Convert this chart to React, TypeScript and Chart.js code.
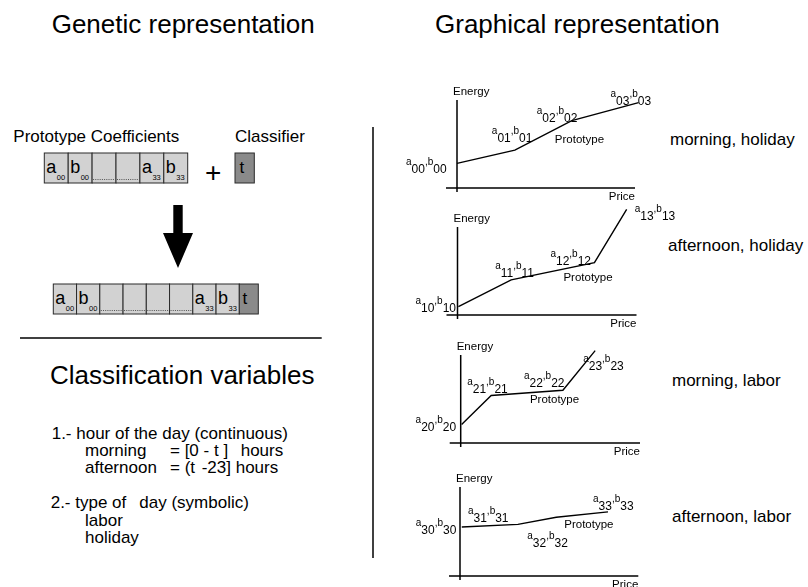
import React, { useEffect, useRef } from "react";
import { Chart, registerables } from "chart.js";

Chart.register(...registerables);

const FONT = '"Liberation Sans", Arial, Helvetica, sans-serif';

// ---- data (arbitrary Price / Energy units of each prototype) ----
const PRICE_MAX = 10;
const ENERGY_MAX = 10;
const profileNames = ["morning, holiday", "afternoon, holiday", "morning, labor", "afternoon, labor"];
const price0 = [0, 3.25, 6.45, 10.2];
const energy0 = [2.8, 4.3, 7.65, 9.7];
const price1 = [0.05, 3.0, 7.65, 9.45];
const energy1 = [0.95, 4.0, 5.95, 12.0];
const price2 = [0.05, 1.7, 5.7, 7.5];
const energy2 = [2.1, 5.4, 6.0, 10.5];
const price3 = [0.1, 3.25, 5.4, 8.3];
const energy3 = [5.5, 5.8, 6.6, 7.2];
const prices = [price0, price1, price2, price3];
const energies = [energy0, energy1, energy2, energy3];

// ---- layout ----
const panelBoxes = [
  { l: 457, t: 100, r: 635, b: 188 },
  { l: 457.5, t: 227, r: 636.5, b: 315 },
  { l: 460.7, t: 355, r: 640, b: 443.3 },
  { l: 460, t: 486.7, r: 638.3, b: 575.7 },
];
const CANVAS_LEFT = 380;
const CANVAS_W = 320;
const PAD_V = 30;
const coefOffsets = [
  [[-51, 10], [-23, -8.5], [-35, 1], [-28, 2]],
  [[-43, 5], [-16, -3], [-44, 2], [8, 11]],
  [[-46, 6], [-24, -2], [-39, -3], [-12, 19]],
  [[-46, 7], [-50, -2], [-29, 30], [-15, -2]],
];
const protoOffsets = [[-17, 22.6], [-31, 18], [-33, 13], [8, 11]];
const profileLabelPos = [
  { x: 670, y: 145 },
  { x: 668, y: 250.5 },
  { x: 672, y: 385.5 },
  { x: 672, y: 522 },
];

function drawCoef(ctx: CanvasRenderingContext2D, x: number, y: number, sub: string) {
  const small = `10px ${FONT}`;
  const big = `12px ${FONT}`;
  const raise = 8;
  let cx = x;
  ctx.textAlign = "left";
  ctx.font = small;
  ctx.fillText("a", cx, y - raise);
  cx += ctx.measureText("a").width;
  ctx.font = big;
  ctx.fillText(sub, cx, y);
  cx += ctx.measureText(sub).width;
  ctx.font = small;
  ctx.fillText(",", cx, y - raise);
  cx += ctx.measureText(",").width;
  ctx.fillText("b", cx, y - raise);
  cx += ctx.measureText("b").width;
  ctx.font = big;
  ctx.fillText(sub, cx, y);
}

function makeDecor(idx: number) {
  return {
    id: "panelDecor" + idx,
    beforeDatasetsDraw(chart: any) {
      const { ctx, scales } = chart;
      const xs = scales.x;
      const ys = scales.y;
      const x0 = xs.getPixelForValue(0);
      const y0 = ys.getPixelForValue(0);
      const xEnd = xs.getPixelForValue(PRICE_MAX);
      const yEnd = ys.getPixelForValue(ENERGY_MAX);
      ctx.save();
      ctx.strokeStyle = "#000";
      ctx.lineWidth = 1.5;
      ctx.beginPath();
      ctx.moveTo(x0, yEnd);
      ctx.lineTo(x0, y0 + 4);
      ctx.moveTo(x0 - 11, y0);
      ctx.lineTo(xEnd, y0);
      ctx.stroke();
      ctx.restore();
    },
    afterDatasetsDraw(chart: any) {
      const { ctx, scales } = chart;
      const xs = scales.x;
      const ys = scales.y;
      const x0 = xs.getPixelForValue(0);
      const y0 = ys.getPixelForValue(0);
      const xEnd = xs.getPixelForValue(PRICE_MAX);
      const yEnd = ys.getPixelForValue(ENERGY_MAX);
      ctx.save();
      ctx.fillStyle = "#000";
      ctx.textBaseline = "alphabetic";
      ctx.font = `11.5px ${FONT}`;
      ctx.textAlign = "left";
      ctx.fillText("Energy", x0 - 4, yEnd - 5);
      ctx.textAlign = "right";
      ctx.fillText("Price", xEnd, y0 + 12);
      const pr = prices[idx];
      const en = energies[idx];
      for (let j = 0; j < pr.length; j++) {
        const px = xs.getPixelForValue(pr[j]);
        const py = ys.getPixelForValue(en[j]);
        const [dx, dy] = coefOffsets[idx][j];
        drawCoef(ctx, px + dx, py + dy, `${idx}${j}`);
      }
      const p2x = xs.getPixelForValue(pr[2]);
      const p2y = ys.getPixelForValue(en[2]);
      ctx.font = `11.5px ${FONT}`;
      ctx.textAlign = "left";
      ctx.fillText("Prototype", p2x + protoOffsets[idx][0], p2y + protoOffsets[idx][1]);
      ctx.restore();
    },
  };
}

function Panel({ idx }: { idx: number }) {
  const ref = useRef<HTMLCanvasElement | null>(null);
  const box = panelBoxes[idx];
  const top = box.t - PAD_V;
  const height = box.b - box.t + 2 * PAD_V;
  useEffect(() => {
    if (!ref.current) return;
    const chart = new Chart(ref.current, {
      type: "line",
      data: {
        datasets: [
          {
            data: prices[idx].map((p, i) => ({ x: p, y: energies[idx][i] })),
            borderColor: "#000",
            borderWidth: 1.4,
            pointRadius: 0,
            tension: 0,
            fill: false,
            clip: false as any,
          },
        ],
      },
      options: {
        responsive: false,
        maintainAspectRatio: false,
        animation: false,
        devicePixelRatio: 1,
        layout: {
          padding: {
            left: box.l - CANVAS_LEFT,
            right: CANVAS_LEFT + CANVAS_W - box.r,
            top: PAD_V,
            bottom: PAD_V,
          },
        },
        plugins: { legend: { display: false }, tooltip: { enabled: false } },
        scales: {
          x: { type: "linear", min: 0, max: PRICE_MAX, display: false },
          y: { type: "linear", min: 0, max: ENERGY_MAX, display: false },
        },
      },
      plugins: [makeDecor(idx)],
    });
    return () => chart.destroy();
  }, [idx]);
  return (
    <canvas
      ref={ref}
      width={CANVAS_W}
      height={height}
      style={{ position: "absolute", left: CANVAS_LEFT, top, width: CANVAS_W, height }}
    />
  );
}

const LIGHT = "#d2d2d2";
const DARK = "#8a8a8a";
const EDGE = "#2a2a2a";

function Cell({ x, y, w, h, letter, sub, fill, dotted }: any) {
  return (
    <g>
      <rect x={x} y={y} width={w} height={h} fill={fill} stroke={EDGE} strokeWidth={1} />
      {letter ? (
        <text x={x + 2} y={y + 20} fontSize={18} fill="#000">
          {letter}
        </text>
      ) : null}
      {sub ? (
        <text x={x + 12.5} y={y + 27} fontSize={7.5} fill="#000">
          {sub}
        </text>
      ) : null}
      {dotted ? (
        <line x1={x + 1} y1={y + h - 3.5} x2={x + w - 1} y2={y + h - 3.5} stroke="#333" strokeWidth={0.8} strokeDasharray="1 1.2" />
      ) : null}
    </g>
  );
}

const topCells = [
  { letter: "a", sub: "00" },
  { letter: "b", sub: "00" },
  { dotted: true },
  { dotted: true },
  { letter: "a", sub: "33" },
  { letter: "b", sub: "33" },
];
const bottomCells = [
  { letter: "a", sub: "00" },
  { letter: "b", sub: "00" },
  { dotted: true },
  { dotted: true },
  { dotted: true },
  { dotted: true },
  { letter: "a", sub: "33" },
  { letter: "b", sub: "33" },
];

export default function App() {
  const topW = 23.9;
  const botW = 23.25;
  return (
    <div
      style={{
        position: "fixed",
        left: 0,
        top: 0,
        width: 808,
        height: 587,
        overflow: "hidden",
        background: "#fff",
      }}
    >
      <svg
        width={808}
        height={587}
        style={{ position: "absolute", left: 0, top: 0 }}
        fontFamily={FONT}
      >
        <text x={51.7} y={33} fontSize={26} fill="#000">Genetic representation</text>
        <text x={435} y={33} fontSize={26} fill="#000">Graphical representation</text>

        <text x={13.3} y={141.7} fontSize={17} fill="#000">Prototype Coefficients</text>
        <text x={235} y={141.7} fontSize={17} fill="#000">Classifier</text>

        {topCells.map((c, i) => (
          <Cell key={"t" + i} x={44.3 + i * topW} y={153} w={topW} h={30} fill={LIGHT} {...c} />
        ))}
        <text x={213.3} y={181.6} fontSize={28} textAnchor="middle" fill="#000">+</text>
        <rect x={235} y={153} width={19.3} height={30} fill={DARK} stroke={EDGE} strokeWidth={1} />
        <text x={239.5} y={173} fontSize={17} fill="#000">t</text>

        <polygon points="173.3,205 182.7,205 182.7,233 193,233 178,268 163,233 173.3,233" fill="#000" />

        {bottomCells.map((c, i) => (
          <Cell key={"b" + i} x={53.3 + i * botW} y={284} w={botW} h={30} fill={LIGHT} {...c} />
        ))}
        <rect x={239.3} y={284} width={19} height={30} fill={DARK} stroke={EDGE} strokeWidth={1} />
        <text x={242.5} y={304} fontSize={17} fill="#000">t</text>

        <line x1={20} y1={338} x2={321.7} y2={338} stroke="#000" strokeWidth={1.5} />

        <text x={50} y={384} fontSize={26} fill="#000">Classification variables</text>

        <g fontSize={17} fill="#000">
          <text x={51.7} y={439.3}>1.- hour of the day (continuous)</text>
          <text x={85} y={456}>morning</text>
          <text x={170} y={456}>= [0 - t ]</text>
          <text x={240.7} y={456}>hours</text>
          <text x={85} y={473.3}>afternoon</text>
          <text x={170} y={473.3}>= (t</text>
          <text x={201.7} y={473.3}>-23] hours</text>
          <text x={50.7} y={508.3}>2.- type of</text>
          <text x={139.3} y={508.3}>day (symbolic)</text>
          <text x={85} y={526}>labor</text>
          <text x={85} y={543.3}>holiday</text>
        </g>

        <line x1={373} y1={127} x2={373} y2={558} stroke="#000" strokeWidth={1.5} />

        <g fontSize={17} fill="#000">
          {profileNames.map((n, i) => (
            <text key={n} x={profileLabelPos[i].x} y={profileLabelPos[i].y}>{n}</text>
          ))}
        </g>
      </svg>
      {[0, 1, 2, 3].map((i) => (
        <Panel key={i} idx={i} />
      ))}
    </div>
  );
}
